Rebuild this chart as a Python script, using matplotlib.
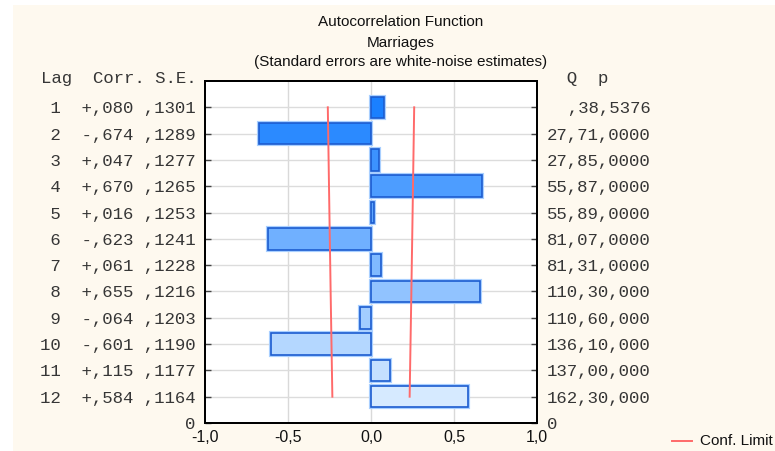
import matplotlib
matplotlib.use("Agg")
import matplotlib.pyplot as plt
from matplotlib.patches import Rectangle
from matplotlib.colors import LinearSegmentedColormap
import numpy as np

# ---- data ----
lags = [1, 2, 3, 4, 5, 6, 7, 8, 9, 10, 11, 12]
corr = [0.080, -0.674, 0.047, 0.670, 0.016, -0.623, 0.061, 0.655, -0.064, -0.601, 0.115, 0.584]
se = [0.1301, 0.1289, 0.1277, 0.1265, 0.1253, 0.1241, 0.1228, 0.1216, 0.1203, 0.1190, 0.1177, 0.1164]
corr_txt = ["+,080", "-,674", "+,047", "+,670", "+,016", "-,623", "+,061", "+,655", "-,064", "-,601", "+,115", "+,584"]
se_txt = [",1301", ",1289", ",1277", ",1265", ",1253", ",1241", ",1228", ",1216", ",1203", ",1190", ",1177", ",1164"]
q_txt = [",38", "27,71", "27,85", "55,87", "55,89", "81,07", "81,31", "110,30", "110,60", "136,10", "137,00", "162,30"]
p_txt = [",5376", ",0000", ",0000", ",0000", ",0000", ",0000", ",0000", ",000", ",000", ",000", ",000", ",000"]
xticks = [-1.0, -0.5, 0.0, 0.5, 1.0]
xtick_labels = ["-1,0", "-0,5", "0,0", "0,5", "1,0"]
title_lines = ["Autocorrelation Function", "Marriages", "(Standard errors are white-noise estimates)"]
legend_label = "Conf. Limit"

W, H = 775, 451
fig = plt.figure(figsize=(W / 100, H / 100), dpi=100, facecolor="white")
cream = "#fef9ef"
fig.patches.append(Rectangle((13 / W, 0), 1 - 13 / W, 1 - 5 / H, transform=fig.transFigure,
                             facecolor=cream, edgecolor="none", zorder=-10))

ax = fig.add_axes([205 / W, 1 - 423 / H, (537 - 205) / W, (423 - 81) / H])
ax.set_facecolor("white")
n = len(lags)
top = n + 1
ypos = [top - l for l in lags]

cmap = LinearSegmentedColormap.from_list("b", ["#1a80ff", "#d6eaff"])
cols = [cmap(i / (n - 1)) for i in range(n)]
# soft outer glow like the reference
ax.barh(ypos, corr, height=0.82, color="none", edgecolor="#a9cfff", linewidth=3.0, zorder=2.9)
ax.barh(ypos, corr, height=0.82, color=cols, edgecolor="#1c5cd0", linewidth=1.2, zorder=3)

upper = [2 * s for s in se]
lower = [-2 * s for s in se]
ax.plot(upper, ypos, color="#ff6a6a", lw=1.4, zorder=4)
ax.plot(lower, ypos, color="#ff6a6a", lw=1.4, zorder=4)

ax.set_xlim(-1, 1)
ax.set_ylim(0, top)
ax.set_xticks(xticks)
ax.set_xticklabels(xtick_labels, family="Liberation Sans", fontsize=11.5, color="#111111")
ax.tick_params(axis="x", length=0, pad=5)

ax.grid(False)
for xv in [-0.5, 0.0, 0.5]:
    ax.axvline(xv, color="#d9d9d9", lw=1.0, zorder=1)
for yv in ypos:
    ax.axhline(yv, color="#dcdcdc", lw=1.0, zorder=1)

mono = "Liberation Mono"
mfs = 12.5
mcol = "#363636"
left_labels = [f"{l:>2}  {c} {s}" for l, c, s in zip(lags, corr_txt, se_txt)]
ax.set_yticks(ypos + [0])
ax.set_yticklabels(left_labels + ["0"], family=mono, fontsize=mfs, color=mcol)
ax.tick_params(axis="y", direction="in", length=4, width=1, color="#444444", pad=7)

ax2 = ax.twinx()
ax2.set_ylim(0, top)
right_labels = [f"{q + p:>10}" for q, p in zip(q_txt, p_txt)]
ax2.set_yticks(ypos + [0])
ax2.set_yticklabels(right_labels + ["0"], family=mono, fontsize=mfs, color=mcol)
for lab in ax2.get_yticklabels():
    lab.set_horizontalalignment("left")
ax2.tick_params(axis="y", direction="in", length=4, width=1, color="#444444", pad=7)

for a in (ax, ax2):
    for sp in a.spines.values():
        sp.set_color("black")
        sp.set_linewidth(1.4)

fig.text(197 / W, 1 - 78 / H, "Lag  Corr. S.E.", family=mono, fontsize=mfs, color=mcol,
         ha="right", va="center")
fig.text(546 / W, 1 - 78 / H, "  Q  p", family=mono, fontsize=mfs, color=mcol,
         ha="left", va="center")

for txt, yy in zip(title_lines, [22, 43, 62]):
    fig.text(401 / W, 1 - yy / H, txt, family="Liberation Sans", fontsize=11, color="#111111",
             ha="center", va="center")

fig.add_artist(plt.Line2D([672 / W, 692 / W], [1 - 441 / H, 1 - 441 / H], color="#ff6a6a", lw=1.4,
                          transform=fig.transFigure))
fig.text(700 / W, 1 - 441 / H, legend_label, family="Liberation Sans", fontsize=11, color="#111111",
         ha="left", va="center")

fig.savefig("out.png", dpi=100, facecolor=fig.get_facecolor())
